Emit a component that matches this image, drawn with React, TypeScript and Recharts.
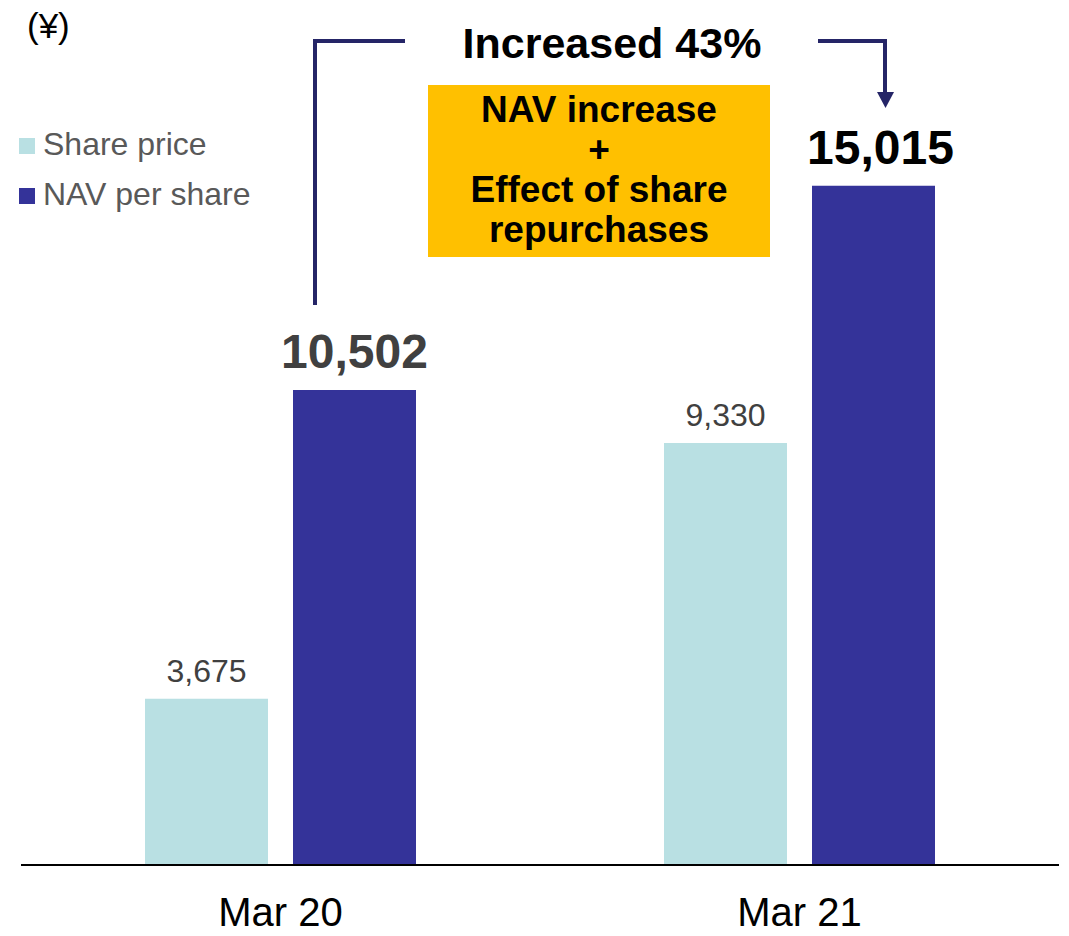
import { BarChart, Bar, XAxis, YAxis, Legend, LabelList } from "recharts";

const categories = ["Mar 20", "Mar 21"];
const sharePrice = [3675, 9330];
const navPerShare = [10502, 15015];

const seriesOrder = ["share", "nav"];
const boxLines = ["NAV increase", "+", "Effect of share", "repurchases"];

const FONT = "'Liberation Sans', Arial, sans-serif";
const SHARE_COLOR = "#B9E0E3";
const NAV_COLOR = "#343399";
const ARROW_COLOR = "#252567";

const data = categories.map((name, i) => ({
  name,
  share: sharePrice[i],
  nav: navPerShare[i],
}));

// small grey value above the share price bars
const ShareLabel = (props: any) => {
  const { x, y, width, value } = props;
  return (
    <text
      x={Number(x) + Number(width) / 2}
      y={Number(y) - 17}
      textAnchor="middle"
      fontFamily={FONT}
      fontSize={32}
      fill="#404040"
    >
      {Number(value).toLocaleString("en-US")}
    </text>
  );
};

// big bold value above the NAV bars (latest one in black, sits a bit to the right)
const NavLabel = (props: any) => {
  const { x, y, width, value, index } = props;
  const last = index === navPerShare.length - 1;
  return (
    <text
      x={Number(x) + Number(width) / 2 + (last ? 7 : 0)}
      y={Number(y) - 22}
      textAnchor="middle"
      fontFamily={FONT}
      fontSize={48}
      fontWeight="bold"
      fill={last ? "#000000" : "#404040"}
    >
      {Number(value).toLocaleString("en-US")}
    </text>
  );
};

const LegendContent = (props: any) => {
  const payload = [...(props.payload || [])].sort(
    (a: any, b: any) => seriesOrder.indexOf(a.dataKey) - seriesOrder.indexOf(b.dataKey)
  );
  return (
    <svg width={280} height={100}>
      {payload.map((p: any, i: number) => (
        <g key={`leg-${i}`}>
          <rect x={19} y={18 + i * 50} width={16} height={16} fill={p.color} />
          <text x={43} y={35 + i * 50} fontFamily={FONT} fontSize={32} fill="#595959">
            {p.value}
          </text>
        </g>
      ))}
    </svg>
  );
};

export default function App() {
  return (
    <div style={{ position: "absolute", left: 0, top: 0, width: 1069, height: 936, background: "#fff" }}>
      <BarChart
        width={1069}
        height={936}
        data={data}
        margin={{ top: 96, right: 10, left: 21, bottom: 11 }}
        barSize={123}
        barGap={25}
      >
        <XAxis
          dataKey="name"
          height={60}
          tickLine={false}
          axisLine={{ stroke: "#000", strokeWidth: 2 }}
          tickMargin={27}
          tick={{ fontSize: 40, fill: "#000", fontFamily: FONT }}
        />
        <YAxis hide domain={[0, 17000]} />
        <Legend
          layout="horizontal"
          verticalAlign="middle"
          align="center"
          wrapperStyle={{ left: 0, top: 120, width: 280, height: 100 }}
          content={<LegendContent />}
        />
        <Bar dataKey="share" name="Share price" fill={SHARE_COLOR} isAnimationActive={false}>
          <LabelList dataKey="share" content={<ShareLabel />} />
        </Bar>
        <Bar dataKey="nav" name="NAV per share" fill={NAV_COLOR} isAnimationActive={false}>
          <LabelList dataKey="nav" content={<NavLabel />} />
        </Bar>
      </BarChart>

      <svg
        width={1069}
        height={936}
        style={{ position: "absolute", left: 0, top: 0, pointerEvents: "none" }}
      >
        <text x={27} y={38} fontFamily={FONT} fontSize={35} fill="#000">
          (¥)
        </text>
        <polyline
          points="315,305 315,41 405,41"
          fill="none"
          stroke={ARROW_COLOR}
          strokeWidth={4}
        />
        <polyline
          points="818,41 885,41 885,94"
          fill="none"
          stroke={ARROW_COLOR}
          strokeWidth={4}
        />
        <polygon points="877,92 894,92 885.5,108" fill={ARROW_COLOR} />
        <text
          x={612}
          y={58}
          textAnchor="middle"
          fontFamily={FONT}
          fontSize={43}
          fontWeight="bold"
          fill="#000"
        >
          Increased 43%
        </text>
        <rect x={428} y={85} width={342} height={172} fill="#FFC000" />
        {boxLines.map((line, i) => (
          <text
            key={line}
            x={599}
            y={122 + i * 40}
            textAnchor="middle"
            fontFamily={FONT}
            fontSize={37}
            fontWeight="bold"
            fill="#000"
          >
            {line}
          </text>
        ))}
      </svg>
    </div>
  );
}
